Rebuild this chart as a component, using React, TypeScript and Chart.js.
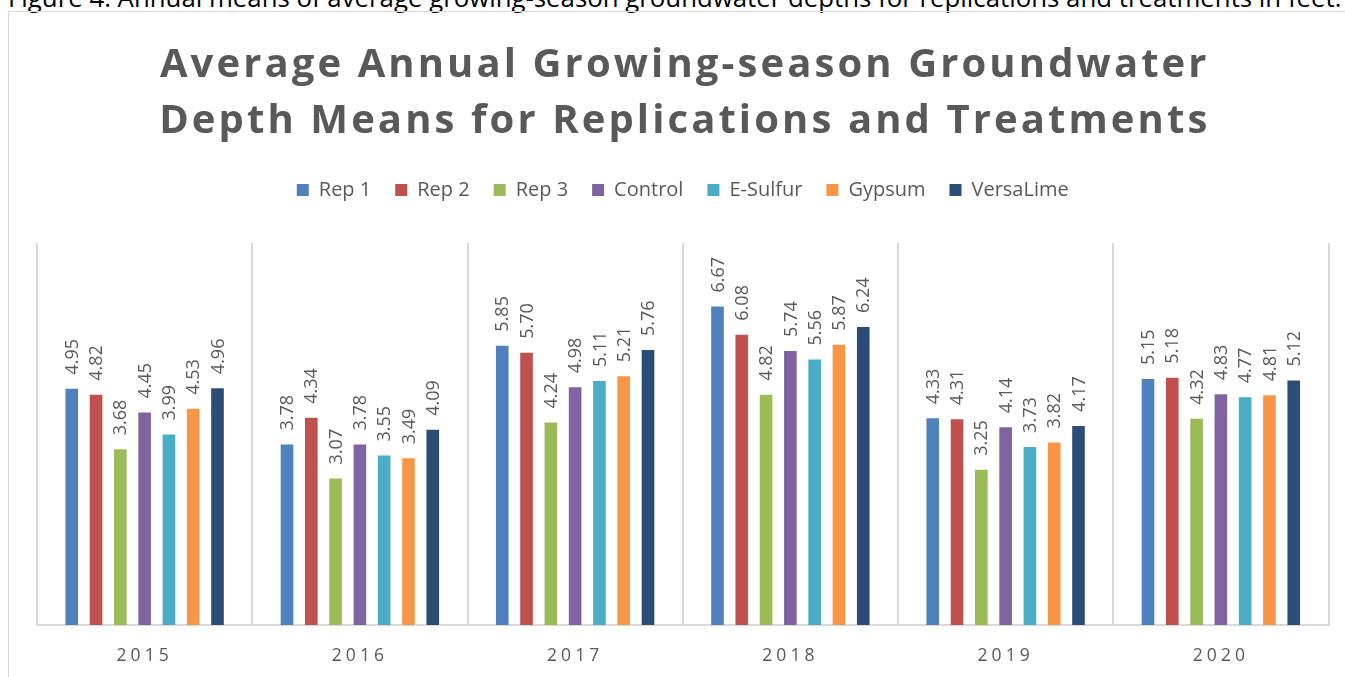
import React, { useEffect, useRef } from "react";
import { Chart, registerables } from "chart.js";

Chart.register(...registerables);

const years = ["2015", "2016", "2017", "2018", "2019", "2020"];
const seriesNames = ["Rep 1", "Rep 2", "Rep 3", "Control", "E-Sulfur", "Gypsum", "VersaLime"];
const seriesColors = ["#4F81BD", "#C0504D", "#9BBB59", "#8064A2", "#4BACC6", "#F79646", "#2C4D75"];

const rep1 = [4.95, 3.78, 5.85, 6.67, 4.33, 5.15];
const rep2 = [4.82, 4.34, 5.7, 6.08, 4.31, 5.18];
const rep3 = [3.68, 3.07, 4.24, 4.82, 3.25, 4.32];
const control = [4.45, 3.78, 4.98, 5.74, 4.14, 4.83];
const eSulfur = [3.99, 3.55, 5.11, 5.56, 3.73, 4.77];
const gypsum = [4.53, 3.49, 5.21, 5.87, 3.82, 4.81];
const versaLime = [4.96, 4.09, 5.76, 6.24, 4.17, 5.12];

const seriesValues = [rep1, rep2, rep3, control, eSulfur, gypsum, versaLime];

const titleLines = [
  "Average Annual Growing-season Groundwater",
  "Depth Means for Replications and Treatments",
];
const caption =
  "Figure 4. Annual means of average growing-season groundwater depths for replications and treatments in feet.";

const FONT = '"Open Sans", "Noto Sans", sans-serif';
const GRAY = "#595959";

const labelsPlugin = {
  id: "barLabels",
  afterDatasetsDraw(chart: any) {
    const ctx = chart.ctx;
    ctx.save();
    ctx.font = `18px ${FONT}`;
    ctx.fillStyle = GRAY;
    ctx.textAlign = "left";
    ctx.textBaseline = "middle";
    chart.data.datasets.forEach((ds: any, i: number) => {
      const meta = chart.getDatasetMeta(i);
      meta.data.forEach((bar: any, j: number) => {
        const v = ds.data[j];
        ctx.save();
        ctx.translate(bar.x + 1, bar.y - 14);
        ctx.rotate(-Math.PI / 2);
        ctx.fillText(v.toFixed(2), 0, 0);
        ctx.restore();
      });
    });
    ctx.restore();
    // letter spacing for x tick labels, which are drawn after datasets (ticks.z = 1)
    ctx.letterSpacing = "4px";
  },
  afterDraw(chart: any) {
    const ctx = chart.ctx;
    ctx.letterSpacing = "0px";
    ctx.save();
    ctx.font = `bold 40px ${FONT}`;
    ctx.fillStyle = GRAY;
    ctx.textAlign = "center";
    ctx.textBaseline = "alphabetic";
    ctx.letterSpacing = "3.1px";
    const cx = (chart.chartArea.left + chart.chartArea.right) / 2 + 2;
    ctx.fillText(titleLines[0], cx, 65);
    ctx.fillText(titleLines[1], cx, 121);
    ctx.restore();
    ctx.letterSpacing = "0px";
  },
};

export default function App() {
  const ref = useRef<HTMLCanvasElement | null>(null);

  useEffect(() => {
    if (!ref.current) return;
    const chart = new Chart(ref.current, {
      type: "bar",
      data: {
        labels: years,
        datasets: seriesNames.map((name, i) => ({
          label: name,
          data: seriesValues[i],
          backgroundColor: seriesColors[i],
          borderWidth: 0,
          categoryPercentage: 0.79,
          barPercentage: 0.52,
        })),
      },
      options: {
        responsive: false,
        animation: false,
        layout: { padding: { top: 144, left: 28, right: 16.5, bottom: 0 } },
        plugins: {
          legend: {
            position: "top",
            labels: {
              boxWidth: 12,
              boxHeight: 12,
              padding: 24,
              color: GRAY,
              font: { family: FONT, size: 20 },
            },
          },
          subtitle: {
            display: true,
            text: "",
            weight: 500,
            position: "top",
            font: { size: 10 },
            padding: { top: 10.5, bottom: 10.5 },
          },
          title: { display: false },
          tooltip: { enabled: false },
        },
        scales: {
          x: {
            grid: { offset: true, color: "#d9d9d9", lineWidth: 2, drawTicks: false },
            border: { color: "#d9d9d9", width: 2 },
            ticks: {
              color: GRAY,
              font: { family: FONT, size: 17.5 },
              padding: 21,
              maxRotation: 0,
              autoSkip: false,
              z: 1,
            },
            afterFit: (scale: any) => {
              scale.height = 52;
            },
          },
          y: { display: false, min: 0, max: 8 },
        },
      },
      plugins: [labelsPlugin],
    } as any);
    return () => chart.destroy();
  }, []);

  return (
    <div style={{ position: "fixed", inset: 0, overflow: "hidden", background: "#fff" }}>
      <div
        style={{
          position: "absolute",
          left: 8,
          top: -21,
          whiteSpace: "nowrap",
          font: `25.8px ${FONT}`,
          color: "#000",
        }}
      >
        {caption}
      </div>
      <div
        style={{
          position: "absolute",
          left: 8,
          top: 11,
          width: 1400,
          height: 700,
          border: "1px solid #d9d9d9",
          boxSizing: "border-box",
        }}
      >
        <canvas ref={ref} width={1336} height={665} style={{ display: "block", width: 1336, height: 665 }} />
      </div>
    </div>
  );
}
